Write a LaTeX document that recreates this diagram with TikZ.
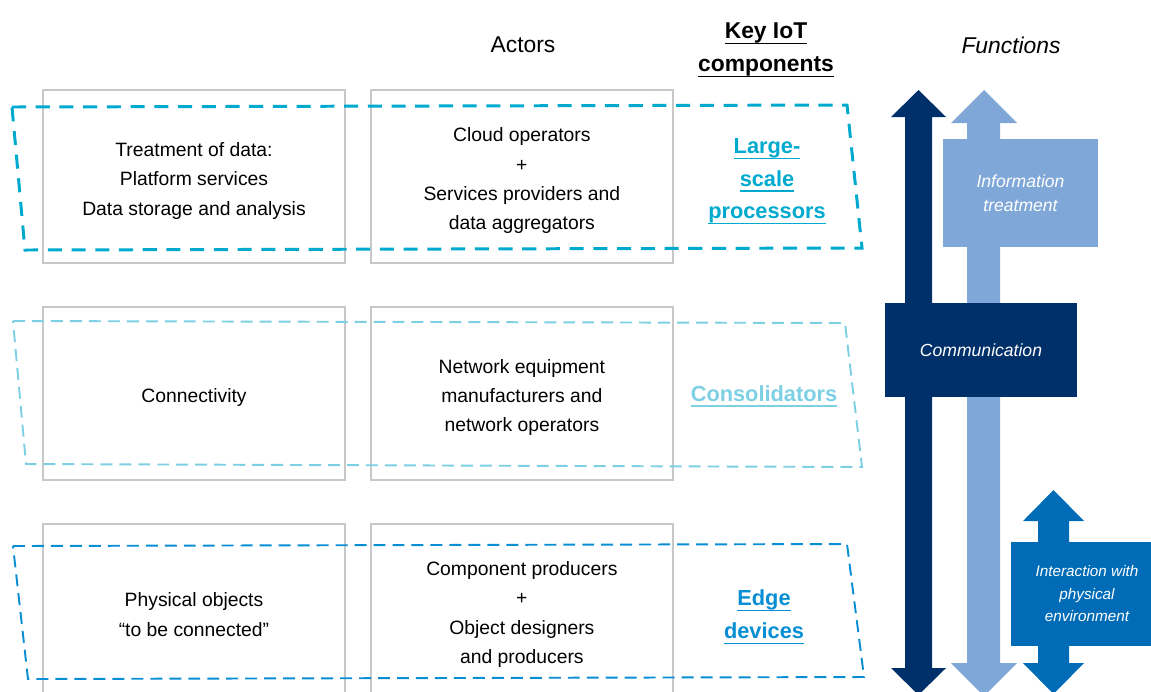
\documentclass[tikz,border=0pt]{standalone}
\usepackage{fontspec}
\setmainfont{Liberation Sans}
\usepackage{tikz}
\usetikzlibrary{positioning}
\definecolor{navy}{RGB}{0, 48, 105}
\definecolor{infoblue}{RGB}{127, 167, 216}
\definecolor{interblue}{RGB}{0, 108, 183}
\definecolor{procblue}{RGB}{0, 170, 206}
\definecolor{consblue}{RGB}{125, 208, 228}
\definecolor{edgeblue}{RGB}{8, 142, 212}
\definecolor{boxgray}{RGB}{200, 200, 200}
\newcommand{\uword}[1]{\setbox0\hbox{#1}\rlap{\vrule width\wd0 height -2.4pt depth 3.2pt}\box0}
\newcommand{\topline}{\rule{0pt}{12.8pt}}
\tikzstyle{layerbox} = [rectangle, draw=boxgray, line width=1.1pt, minimum width=6.04cm, minimum height=3.46cm, align=center, font=\fontsize{11}{16.7}\selectfont]
\tikzstyle{header} = [align=center, font=\fontsize{13}{18.7}\selectfont]
\tikzstyle{component} = [align=center, font=\bfseries\fontsize{12.4}{18.5}\selectfont]
\tikzstyle{funcbox} = [rectangle, text=white, align=center, font=\itshape\fontsize{10}{13.6}\selectfont]
\tikzstyle{band} = [line width=1.1pt, dash pattern=on 6.8pt off 4pt]

\begin{document}
\begin{tikzpicture}[x=0.02cm, y=-0.02cm]
    \useasboundingbox (0,0) rectangle (1151,691);
    \clip (0,0) rectangle (1151,691);

    % headers
    \node [header] (actors) at (523,45) {Actors};
    \node [header, font=\bfseries\fontsize{13}{18.7}\selectfont] (key) at (766,50) {\uword{Key IoT}\\\uword{components}};
    \node [header, font=\itshape\fontsize{13}{18.7}\selectfont] (functions) at (1011,45) {Functions};

    % layers and actors
    \node [layerbox] (treat) at (194,176.5) {\topline Treatment of data:\\Platform services\\Data storage and analysis};
    \node [layerbox, right=0.48cm of treat] (cloud) {\topline Cloud operators\\+\\Services providers and\\data aggregators};
    \node [layerbox, below=0.84cm of treat] (connect) {\topline Connectivity};
    \node [layerbox, right=0.48cm of connect] (network) {\topline Network equipment\\manufacturers and\\network operators};
    \node [layerbox, below=0.84cm of connect] (objects) {\topline Physical objects\\“to be connected”};
    \node [layerbox, right=0.48cm of objects] (producers) {\topline Component producers\\+\\Object designers\\and producers};

    % dashed bands
    \draw [band, procblue, line width=1.7pt, dash pattern=on 8pt off 5.5pt] (12,107) -- (847,105) -- (862,248) -- (25,250) -- cycle;
    \draw [band, consblue] (13,321) -- (845,323) -- (862,467) -- (26,464) -- cycle;
    \draw [band, edgeblue] (13,546) -- (847,544) -- (864,677) -- (28,679) -- cycle;

    \node [component, text=procblue] (large) at (767,181.5) {\uword{Large-}\\\uword{scale}\\\uword{processors}};
    \node [component, text=consblue] (cons) at (764,396) {\uword{Consolidators}};
    \node [component, text=edgeblue] (edge) at (764,617) {\uword{Edge}\\\uword{devices}};

    % function arrows
    \fill [navy] (905,117) -- (891,117) -- (918.5,90) -- (946,117) -- (932,117) -- (932,668) -- (946,668) -- (918.5,695) -- (891,668) -- (905,668) -- cycle;
    \fill [infoblue] (967,123) -- (951,123) -- (984,90) -- (1017,123) -- (1000,123) -- (1000,663) -- (1017,663) -- (984,696) -- (951,663) -- (967,663) -- cycle;
    \fill [interblue] (1038,521) -- (1023,521) -- (1053.5,490) -- (1084,521) -- (1069,521) -- (1069,663) -- (1084,663) -- (1053.5,694) -- (1023,663) -- (1038,663) -- cycle;

    \node [funcbox, fill=infoblue, minimum width=3.1cm, minimum height=2.16cm] (info) at (1020.5,193) {Information\\treatment};
    \node [funcbox, fill=navy, minimum width=3.84cm, minimum height=1.88cm] (comm) at (981,350) {Communication};
    \node [funcbox, fill=interblue, minimum width=3.04cm, minimum height=2.08cm, font=\itshape\fontsize{8.7}{12.8}\selectfont] (inter) at (1087,594) {Interaction with\\physical\\environment};
\end{tikzpicture}
\end{document}
